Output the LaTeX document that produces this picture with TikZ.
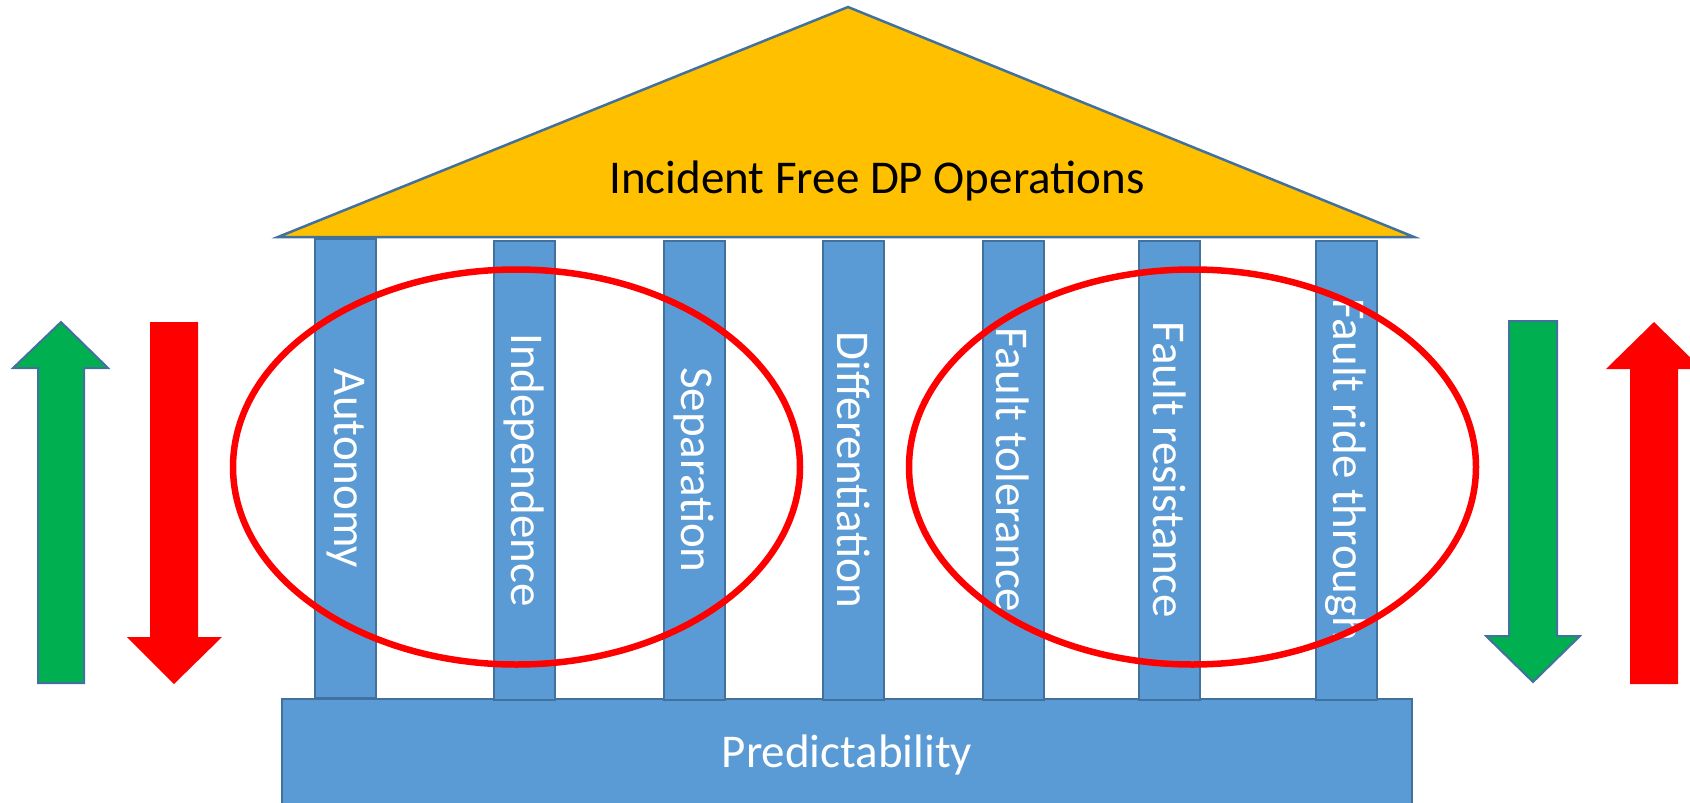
\documentclass[tikz,border=0pt]{standalone}
\usepackage{fontspec}
\setmainfont{Carlito}
\usetikzlibrary{shapes.geometric}
\definecolor{roofgold}{HTML}{FFC000}
\definecolor{pillarblue}{HTML}{5B9BD5}
\definecolor{edgeblue}{HTML}{41719C}
\definecolor{upgreen}{HTML}{00B050}
\definecolor{alertred}{HTML}{FF0000}
\tikzset{
  pillar/.style={draw=edgeblue, line width=2pt, fill=pillarblue, rotate=-90,
    minimum width=459, minimum height=61, inner sep=0pt, text=white,
    font=\fontsize{47}{56}\selectfont},
  basebox/.style={draw=edgeblue, line width=2pt, fill=pillarblue, text=white},
  bigtext/.style={font=\fontsize{47}{56}\selectfont},
  ring/.style={draw=alertred, line width=6.5pt},
  greenarrow/.style={fill=upgreen, draw=edgeblue, line width=2pt},
  redarrow/.style={fill=alertred},
}
\begin{document}
\begin{tikzpicture}[x=1pt, y=-1pt]
\useasboundingbox (0,0) rectangle (1690,803);

% foundation slab
\draw[basebox] (282,699) rectangle (1412,812);
\node[bigtext, text=white] (base) at (847,755) {Predictability};

% pillars
\node[pillar] (p1) at (345.5,468.5) {Autonomy};
\node[pillar] (p2) at (524,470) {Independence};
\node[pillar] (p3) at (694,470) {Separation};
\node[pillar] (p4) at (853.5,470) {Differentiation};
\node[pillar] (p5) at (1013,470) {Fault tolerance};
\node[pillar] (p6) at (1169.5,470) {Fault resistance};
\node[pillar] (p7) at (1346,470) {Fault ride through};

% roof
\draw[fill=roofgold, draw=edgeblue, line width=2.5pt, line join=miter]
  (278,237) -- (848,7) -- (1414,237) -- cycle;
\node[bigtext] (roof) at (877,181) {Incident Free DP Operations};

% groupings
\node[ring, ellipse, minimum width=567, minimum height=395, inner sep=0pt] (g1) at (516.5,467) {};
\node[ring, ellipse, minimum width=567, minimum height=395, inner sep=0pt] (g2) at (1192.5,467) {};

% left arrows
\draw[greenarrow] (61,322) -- (108,368) -- (84,368) -- (84,683) -- (38,683) -- (38,368) -- (13,368) -- cycle;
\fill[redarrow] (150,322) -- (198,322) -- (198,637) -- (222,637) -- (174,684) -- (127,637) -- (150,637) -- cycle;

% right arrows
\draw[greenarrow] (1509,321) -- (1557,321) -- (1557,636) -- (1580,636) -- (1533,682) -- (1486,636) -- (1509,636) -- cycle;
\fill[redarrow] (1654,322) -- (1702,369) -- (1678,369) -- (1678,684) -- (1630,684) -- (1630,369) -- (1606,369) -- cycle;
\end{tikzpicture}
\end{document}
